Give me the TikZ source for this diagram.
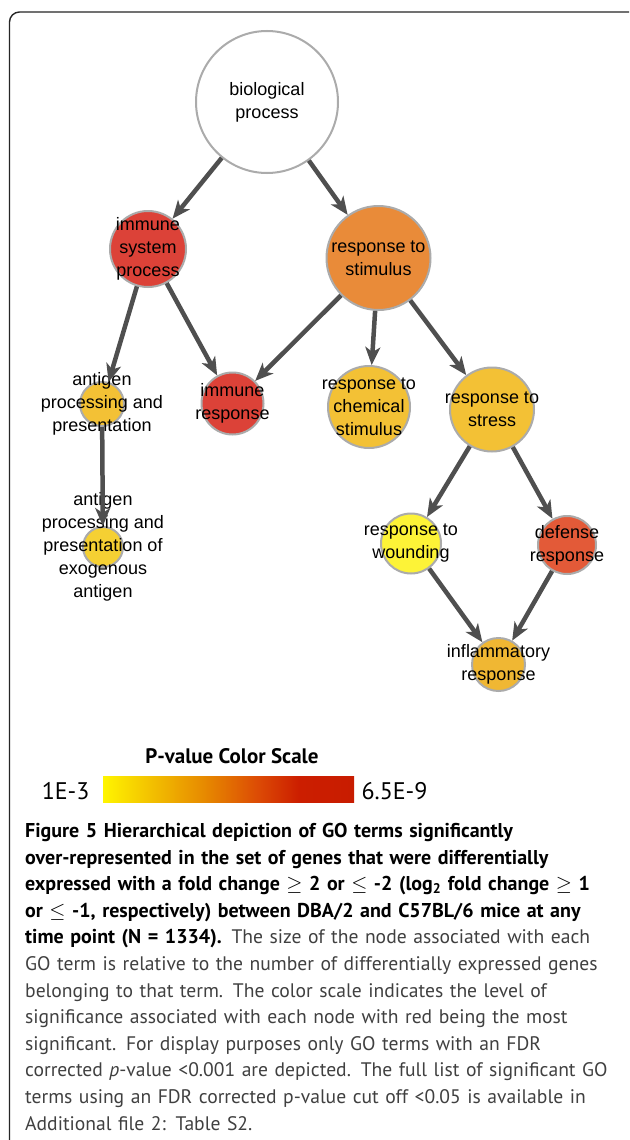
\documentclass[tikz,border=0pt]{standalone}
\usepackage{fontspec}
\setmainfont{PT Sans}
\newfontfamily\termfont{Liberation Sans}
\usepackage{xcolor}
\usetikzlibrary{arrows.meta}
\usepgflibrary{shadings}

\definecolor{termred}{HTML}{DC4238}
\definecolor{termorange}{HTML}{E98B39}
\definecolor{termgold}{HTML}{F3C135}
\definecolor{termyellow}{HTML}{F5D033}
\definecolor{termlemon}{HTML}{FDF337}
\definecolor{termvermil}{HTML}{E35A38}
\definecolor{termamber}{HTML}{F0B733}
\definecolor{rimgray}{HTML}{ABABAB}
\definecolor{linkgray}{HTML}{4F4F4F}
\definecolor{capgray}{HTML}{404040}
\definecolor{scaleA}{HTML}{FFF500}
\definecolor{scaleB}{HTML}{F2BE00}
\definecolor{scaleC}{HTML}{E68500}
\definecolor{scaleD}{HTML}{DC4A05}
\definecolor{scaleE}{HTML}{CC1E00}
\definecolor{scaleF}{HTML}{C81C00}

% tikz maps the path onto 25bp..75bp of the shading
\pgfdeclarehorizontalshading{pscale}{100bp}{color(0bp)=(scaleA); color(25bp)=(scaleA); color(35bp)=(scaleB); color(46bp)=(scaleC); color(56bp)=(scaleD); color(64bp)=(scaleE); color(75bp)=(scaleF); color(100bp)=(scaleF)}

\begin{document}
\begin{tikzpicture}[x=1pt, y=-1pt,
  term/.style={circle, draw=rimgray, line width=2pt, inner sep=0pt, minimum size=#1},
  lbl/.style={font=\termfont\fontsize{18}{23}\selectfont, align=center, inner sep=0pt},
  link/.style={draw=linkgray, line width=4.5pt, -{Stealth[length=18pt, width=15pt, inset=5pt]}}]
  \clip (0,0) rectangle (629,1140);
  \fill[white] (0,0) rectangle (629,1140);
  \draw[line width=1.4pt, rounded corners=10pt, draw=black!85] (9.5,12) rectangle (700,1200);

  % GO term circles
  \node[term=142pt, fill=white] (bio) at (267,102) {};
  \node[term=76pt, fill=termred] (immsys) at (148,249) {};
  \node[term=104pt, fill=termorange] (stim) at (378.5,258) {};
  \node[term=44pt, fill=termgold] (antproc) at (102,404) {};
  \node[term=62pt, fill=termred] (immresp) at (232.5,403.5) {};
  \node[term=82pt, fill=termgold] (chem) at (369,407) {};
  \node[term=84pt, fill=termgold] (stress) at (492,409.5) {};
  \node[term=40pt, fill=termyellow] (exoant) at (103,547) {};
  \node[term=60pt, fill=termlemon] (wound) at (411,543.5) {};
  \node[term=58pt, fill=termvermil] (defense) at (567,545) {};
  \node[term=53pt, fill=termamber] (inflam) at (498.5,664.5) {};

  \node[lbl] at (bio) {biological\\process};
  \node[lbl] at (immsys) {immune\\system\\process};
  \node[lbl] at (stim) {response to\\stimulus};
  \node[lbl] at (antproc) {antigen\\processing and\\presentation};
  \node[lbl] at (immresp) {immune\\response};
  \node[lbl] at (chem) {response to\\chemical\\stimulus};
  \node[lbl] at (stress) {response to\\stress};
  \node[lbl] at (exoant) {antigen\\processing and\\presentation of\\exogenous\\antigen};
  \node[lbl] at (wound) {response to\\wounding};
  \node[lbl] at (defense) {defense\\response};
  \node[lbl] at (inflam) {inflammatory\\response};

  % is-a links
  \draw[link] (bio) -- (immsys);
  \draw[link] (bio) -- (stim);
  \draw[link] (immsys) -- (antproc);
  \draw[link] (immsys) -- (immresp);
  \draw[link] (stim) -- (immresp);
  \draw[link] (stim) -- (chem);
  \draw[link] (stim) -- (stress);
  \draw[link] (antproc) -- (exoant);
  \draw[link] (stress) -- (wound);
  \draw[link] (stress) -- (defense);
  \draw[link] (wound) -- (inflam);
  \draw[link] (defense) -- (inflam);

  % colour scale
  \node[font=\bfseries\fontsize{21}{24}\selectfont] (scaletitle) at (232,756) {P-value Color Scale};
  \shade[shading=pscale] (103,776) rectangle (354,802);
  \node[font=\fontsize{24}{28}\selectfont, anchor=east] (scalelow) at (93,791) {1E-3};
  \node[font=\fontsize{24}{28}\selectfont, anchor=west] (scalehigh) at (358,791) {6.5E-9};

  % caption
  \node[anchor=north west, inner sep=0pt, text width=610pt, align=left, text=capgray,
        font=\fontsize{19.6}{26.6}\selectfont] (caption) at (25,823) {%
    {\color{black}\bfseries\fontsize{20}{26.6}\selectfont Figure 5 Hierarchical depiction of GO terms significantly}\\
    {\color{black}\bfseries\fontsize{20}{26.6}\selectfont over-represented in the set of genes that were differentially}\\
    {\color{black}\bfseries\fontsize{20}{26.6}\selectfont expressed with a fold change $\geq$ 2 or $\leq$ -2 (log\textsubscript{2} fold change $\geq$ 1}\\
    {\color{black}\bfseries\fontsize{20}{26.6}\selectfont or $\leq$ -1, respectively) between DBA/2 and C57BL/6 mice at any}\\
    {\color{black}\bfseries\fontsize{20}{26.6}\selectfont time point (N = 1334).} The size of the node associated with each\\
    GO term is relative to the number of differentially expressed genes\\
    belonging to that term. The color scale indicates the level of\\
    significance associated with each node with red being the most\\
    significant. For display purposes only GO terms with an FDR\\
    corrected \textit{p}-value <0.001 are depicted. The full list of significant GO\\
    terms using an FDR corrected p-value cut off <0.05 is available in\\
    Additional file 2: Table S2.};
\end{tikzpicture}
\end{document}
